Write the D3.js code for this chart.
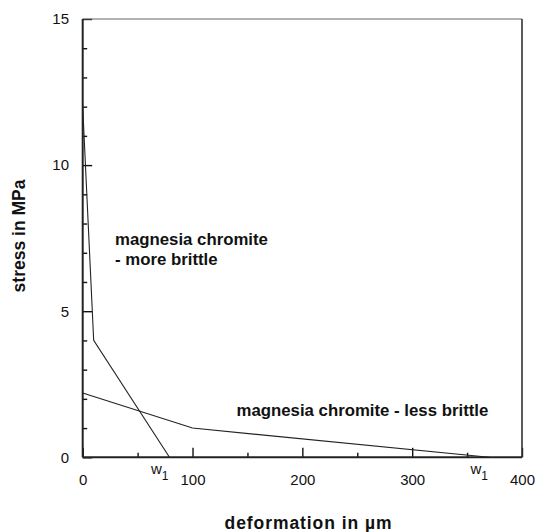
<!DOCTYPE html>
<html>
<head>
<meta charset="utf-8">
<script src="https://cdn.jsdelivr.net/npm/d3@7"></script>
<style>
  html, body { margin: 0; padding: 0; background: #fff; }
  svg { display: block; }
  text { font-family: "Liberation Sans", Arial, Helvetica, sans-serif; fill: #111; }
</style>
</head>
<body>
<svg id="chart" width="537" height="532"></svg>
<script>
// Bilinear softening curves (deformation in µm, stress in MPa)
const moreBrittle = [
  { d: 0, s: 12 },
  { d: 10, s: 4 },
  { d: 79, s: 0 }
];
const lessBrittle = [
  { d: 0, s: 2.2 },
  { d: 100, s: 1 },
  { d: 370, s: 0 }
];
const w1Values = [79, 370];

const xMajorTicks = [0, 100, 200, 300, 400];
const xMinorTicks = [50, 150, 250, 350];
const yMajorTicks = [0, 5, 10, 15];
const yMinorTicks = [1, 2, 3, 4, 6, 7, 8, 9, 11, 12, 13, 14];

const xTitle = "deformation in µm";
const yTitle = "stress in MPa";
const labelMore = ["magnesia chromite", "- more brittle"];
const labelLess = "magnesia chromite - less brittle";

const svg = d3.select("#chart");
const plotL = 82.7, plotR = 522, plotT = 19, plotB = 457.3;

const x = d3.scaleLinear().domain([0, 400]).range([plotL, plotR]);
const y = d3.scaleLinear().domain([0, 15]).range([plotB, plotT]);

function styleTicks(g) {
  g.select(".domain").remove();
  g.selectAll(".tick line").attr("stroke", "#111").attr("stroke-width", 1.4);
  g.selectAll(".tick text").attr("font-size", 15).attr("font-family", null).style("fill", "#111");
}

// minor ticks (inward, short)
svg.append("g")
  .attr("transform", `translate(0,${plotB})`)
  .call(d3.axisBottom(x).tickValues(xMinorTicks).tickSizeInner(-4.5).tickSizeOuter(0).tickFormat(""))
  .call(styleTicks);
svg.append("g")
  .attr("transform", `translate(${plotL},0)`)
  .call(d3.axisLeft(y).tickValues(yMinorTicks).tickSizeInner(-4.5).tickSizeOuter(0).tickFormat(""))
  .call(styleTicks);

// major ticks with labels
svg.append("g")
  .attr("transform", `translate(0,${plotB})`)
  .call(d3.axisBottom(x).tickValues(xMajorTicks).tickSizeInner(-9.5).tickSizeOuter(0).tickPadding(17.5).tickFormat(d3.format("d")))
  .call(styleTicks);
svg.append("g")
  .attr("transform", `translate(${plotL},0)`)
  .call(d3.axisLeft(y).tickValues(yMajorTicks).tickSizeInner(-9.5).tickSizeOuter(0).tickPadding(13.7).tickFormat(d3.format("d")))
  .call(styleTicks);

// frame
svg.append("line").attr("x1", plotL).attr("x2", plotR).attr("y1", plotT).attr("y2", plotT)
  .attr("stroke", "#666").attr("stroke-width", 1.2);
svg.append("line").attr("x1", plotR).attr("x2", plotR).attr("y1", plotT).attr("y2", plotB)
  .attr("stroke", "#333").attr("stroke-width", 1.6);
svg.append("line").attr("x1", plotL).attr("x2", plotL).attr("y1", plotT).attr("y2", plotB)
  .attr("stroke", "#222").attr("stroke-width", 2);
svg.append("line").attr("x1", plotL).attr("x2", plotR).attr("y1", plotB).attr("y2", plotB)
  .attr("stroke", "#222").attr("stroke-width", 2);

// curves
const line = d3.line().x(p => x(p.d)).y(p => y(p.s));
[moreBrittle, lessBrittle].forEach(series => {
  svg.append("path").datum(series)
    .attr("d", line)
    .attr("fill", "none")
    .attr("stroke", "#222")
    .attr("stroke-width", 1.1);
});

// w1 markers at the curve ends
w1Values.forEach(v => {
  const t = svg.append("text")
    .attr("x", x(v) - 1)
    .attr("y", plotB + 16.5)
    .attr("text-anchor", "end")
    .attr("font-size", 15);
  t.append("tspan").text("w");
  t.append("tspan").attr("font-size", 12).attr("dy", 6).text("1");
});

// curve labels
const tm = svg.append("text").attr("font-size", 16.8).attr("font-weight", "bold");
labelMore.forEach((s, i) => {
  tm.append("tspan").attr("x", 115).attr("y", 245 + i * 20).text(s);
});
svg.append("text").attr("x", 236.5).attr("y", 416)
  .attr("font-size", 16.8).attr("font-weight", "bold").text(labelLess);

// axis titles
svg.append("text")
  .attr("x", 308).attr("y", 529)
  .attr("text-anchor", "middle")
  .attr("font-size", 17.5).attr("font-weight", "bold")
  .attr("textLength", 167).attr("lengthAdjust", "spacing")
  .text(xTitle);
svg.append("text")
  .attr("transform", `translate(25,236) rotate(-90)`)
  .attr("text-anchor", "middle")
  .attr("font-size", 17.5).attr("font-weight", "bold")
  .text(yTitle);
</script>
</body>
</html>
